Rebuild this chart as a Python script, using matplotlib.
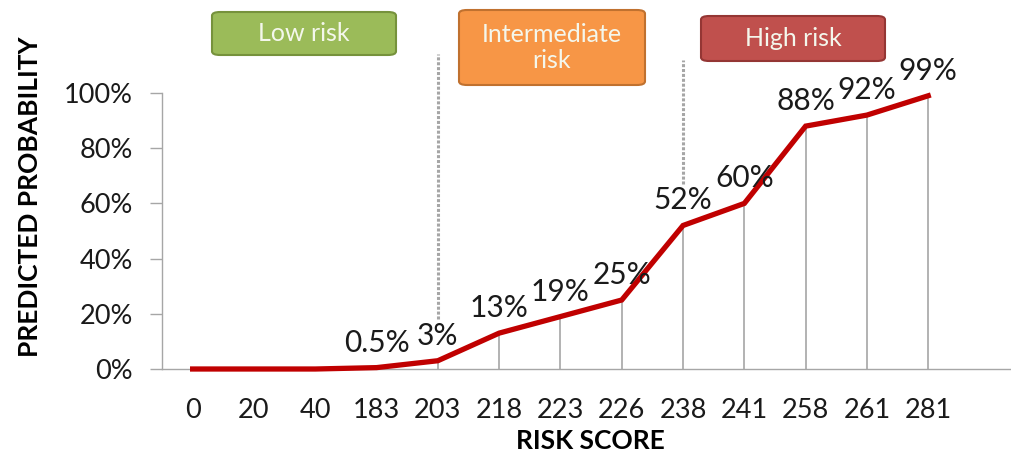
import matplotlib.pyplot as plt
from matplotlib.patches import FancyBboxPatch

plt.rcParams['font.family'] = ['Lato', 'DejaVu Sans']

scores = ['0', '20', '40', '183', '203', '218', '223', '226', '238', '241', '258', '261', '281']
probs = [0, 0, 0, 0.5, 3, 13, 19, 25, 52, 60, 88, 92, 99]
labels = ['', '', '', '0.5%', '3%', '13%', '19%', '25%', '52%', '60%', '88%', '92%', '99%']

risk_groups = ['Low risk', 'Intermediate\nrisk', 'High risk']
group_colors = ['#9BBB59', '#F79646', '#C0504D']
group_edges = ['#76923C', '#C0712F', '#943634']
# box extents in pixels (left, top, right, bottom)
group_boxes = [(212, 12, 396, 55), (459, 10, 645, 85), (701, 16, 885, 61)]

W, H = 1011, 459
fig = plt.figure(figsize=(W / 100, H / 100), dpi=100)
ax = fig.add_axes([162 / W, 90 / H, 849 / W, 276 / H])

x = list(range(len(scores)))
ax.plot(x, probs, color='#C00000', linewidth=3.8, solid_joinstyle='miter', zorder=3, clip_on=False)

# drop lines
for xi, p in zip(x, probs):
    ax.plot([xi, xi], [0, p], color='#A6A6A6', linewidth=1.2, zorder=1)

for xi, p, lab in zip(x, probs, labels):
    if lab:
        ax.annotate(lab, (xi, p), xytext=(0, 18), textcoords='offset points',
                    ha='center', va='center', fontsize=21.5, color='#1a1a1a', annotation_clip=False)

# dotted separators between risk groups
ax.plot([4, 4], [18, 114], color='#A6A6A6', linestyle=(0, (1, 0.6)), linewidth=2.2, clip_on=False)
ax.plot([8, 8], [67, 112], color='#A6A6A6', linestyle=(0, (1, 0.6)), linewidth=2.2, clip_on=False)

ax.set_xlim(-0.5, 13.35)
ax.set_ylim(0, 100)
ax.set_xticks(x)
ax.set_xticklabels(scores)
ax.set_yticks([0, 20, 40, 60, 80, 100])
ax.set_yticklabels(['0%', '20%', '40%', '60%', '80%', '100%'])
ax.tick_params(axis='x', length=0, pad=21, labelsize=19.5, labelcolor='#1a1a1a')
ax.tick_params(axis='y', length=9, width=1, color='#A6A6A6', pad=12, labelsize=19.5, labelcolor='#1a1a1a')

for side in ['top', 'right']:
    ax.spines[side].set_visible(False)
for side in ['left', 'bottom']:
    ax.spines[side].set_color('#A6A6A6')
    ax.spines[side].set_linewidth(1)

ax.set_xlabel('RISK SCORE', fontsize=19, fontweight='bold')
ax.xaxis.set_label_coords((590 - 162) / 849, -(441 - 369) / 276)
ax.set_ylabel('PREDICTED PROBABILITY', fontsize=19, fontweight='bold')
ax.yaxis.set_label_coords(-(162 - 30) / 849, (369 - 197) / 276)
ax.xaxis.label.set_va('center')
ax.yaxis.label.set_va('center')

for name, fc, ec, (l, t, r, b) in zip(risk_groups, group_colors, group_edges, group_boxes):
    box = FancyBboxPatch((l / W, 1 - b / H), (r - l) / W, (b - t) / H,
                         boxstyle='round,pad=0,rounding_size=0.008', transform=fig.transFigure,
                         facecolor=fc, edgecolor=ec, linewidth=1.5)
    fig.patches.append(box)
    fig.text((l + r) / 2 / W, 1 - (t + b) / 2 / H, name, ha='center', va='center',
             fontsize=18, color='#F4F7EC', linespacing=1.2)

fig.savefig('out.png', dpi=100)
